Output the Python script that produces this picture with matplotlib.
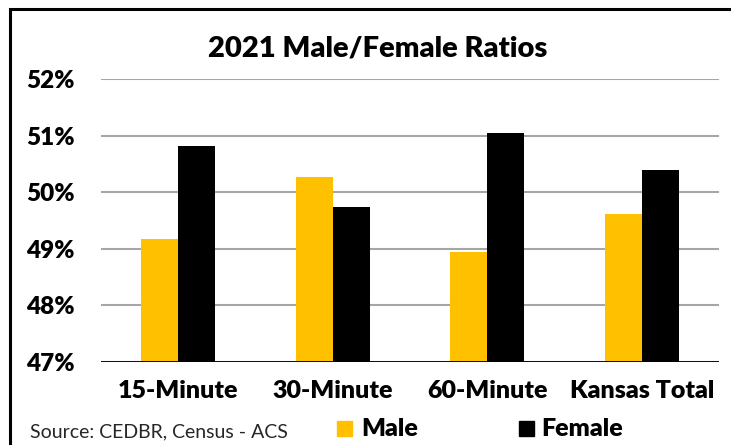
import matplotlib
matplotlib.use('Agg')
import matplotlib.pyplot as plt
from matplotlib.patches import Rectangle
from matplotlib.ticker import FuncFormatter
import numpy as np

categories = ['15-Minute', '30-Minute', '60-Minute', 'Kansas Total']
male = [49.18, 50.26, 48.94, 49.61]
female = [50.82, 49.74, 51.05, 50.40]
yticks = [47, 48, 49, 50, 51, 52]

plt.rcParams['font.family'] = ['Lato', 'DejaVu Sans']

W, H = 731, 445
fig = plt.figure(figsize=(W / 100, H / 100), dpi=100)
ax = fig.add_axes([101 / W, 83 / H, 618 / W, 283 / H])

x = np.arange(len(categories))
bw = 0.24
ax.bar(x - bw / 2, [m - 47 for m in male], bw, bottom=47, color='#FFC000', zorder=3)
ax.bar(x + bw / 2, [f - 47 for f in female], bw, bottom=47, color='#000000', zorder=3)

ax.set_xlim(-0.5, len(categories) - 0.5)
ax.set_ylim(47, 52)
ax.set_yticks(yticks)
ax.yaxis.set_major_formatter(FuncFormatter(lambda v, p: f'{v:.0f}%'))
ax.grid(axis='y', color='#A6A6A6', linewidth=1.5, zorder=0)
ax.set_xticks(x)
ax.set_xticklabels(categories)
ax.tick_params(length=0)
ax.tick_params(axis='y', labelsize=17.5, pad=19)
ax.tick_params(axis='x', labelsize=18, pad=13)
for lab in ax.get_xticklabels() + ax.get_yticklabels():
    lab.set_fontweight('heavy')
for s in ax.spines.values():
    s.set_visible(False)
ax.axhline(47, color='black', linewidth=1.3, zorder=4)

fig.text(378 / W, 1 - 48 / H, '2021 Male/Female Ratios', ha='center', va='center',
         fontsize=21, fontweight='heavy')
fig.text(30 / W, 1 - 431.5 / H, 'Source: CEDBR, Census - ACS', ha='left', va='center',
         fontsize=14, color='#262626')

# legend
fig.patches.append(Rectangle((337 / W, 1 - 436 / H), 15 / W, 15 / H,
                             transform=fig.transFigure, color='#FFC000'))
fig.text(361 / W, 1 - 428.5 / H, 'Male', ha='left', va='center', fontsize=18,
         fontweight='heavy')
fig.patches.append(Rectangle((519 / W, 1 - 436 / H), 15 / W, 15 / H,
                             transform=fig.transFigure, color='#000000'))
fig.text(541 / W, 1 - 428.5 / H, 'Female', ha='left', va='center', fontsize=18,
         fontweight='heavy')

# outer frame
fig.patches.append(Rectangle((10 / W, -0.05), 1.1, 1.05 - 9 / H, transform=fig.transFigure,
                             fill=False, edgecolor='black', linewidth=2.2))

fig.savefig('out.png', dpi=100)
